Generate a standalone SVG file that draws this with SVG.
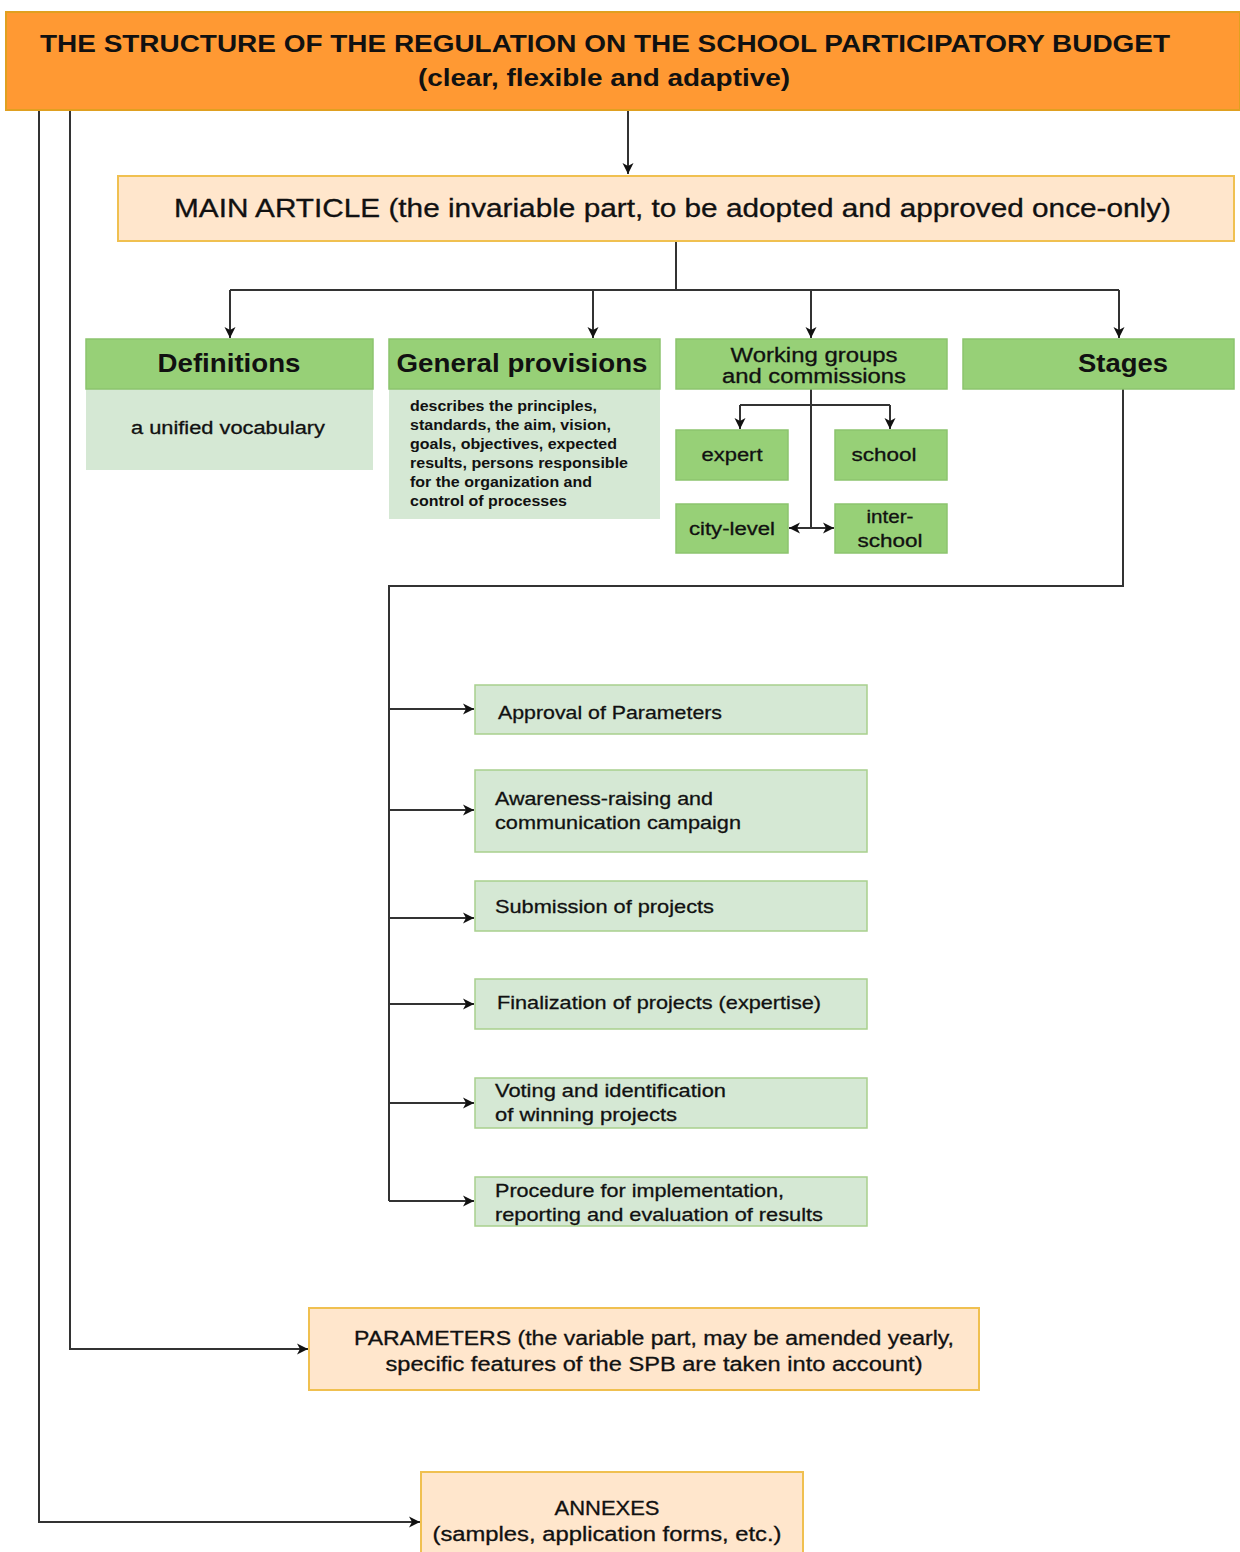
<svg xmlns="http://www.w3.org/2000/svg" width="1240" height="1552" viewBox="0 0 1240 1552">
<defs>
<marker id="ah" markerWidth="14" markerHeight="14" refX="12" refY="7" orient="auto" markerUnits="userSpaceOnUse">
<path d="M1,1.5 L12,7 L1,12.5 L4,7 Z" fill="#111"/>
</marker>
<marker id="ahs" markerWidth="14" markerHeight="14" refX="2" refY="7" orient="auto" markerUnits="userSpaceOnUse">
<path d="M13,1.5 L2,7 L13,12.5 L10,7 Z" fill="#111"/>
</marker>
</defs>
<style>
text{font-family:"Liberation Sans",Arial,sans-serif;fill:#111}
.orange{fill:#FF9933;stroke:#E0A020;stroke-width:2}
.peach{fill:#FFE6CC;stroke:#F0C050;stroke-width:2}
.green{fill:#97D077;stroke:#8CC46E;stroke-width:1.5}
.lgreen{fill:#D5E8D4;stroke:#A8D08D;stroke-width:1.5}
.lgreen2{fill:#D5E8D4;stroke:none}
.c{fill:none;stroke:#333;stroke-width:2}
.b{font-weight:bold}
.m{text-anchor:middle}
.s{stroke:#111;stroke-width:0.3}
</style>
<rect width="1240" height="1552" fill="#fff"/>

<g id="connectors">
<path class="c" d="M628,110 V174" marker-end="url(#ah)"/>
<path class="c" d="M676,241 V290"/>
<path class="c" d="M230,290 H1119"/>
<path class="c" d="M230,290 V338" marker-end="url(#ah)"/>
<path class="c" d="M593,290 V338" marker-end="url(#ah)"/>
<path class="c" d="M811,290 V338" marker-end="url(#ah)"/>
<path class="c" d="M1119,290 V338" marker-end="url(#ah)"/>
<path class="c" d="M811,389 V528"/>
<path class="c" d="M740,405 H890"/>
<path class="c" d="M740,405 V429" marker-end="url(#ah)"/>
<path class="c" d="M890,405 V429" marker-end="url(#ah)"/>
<path class="c" d="M789,528 H834" marker-start="url(#ahs)" marker-end="url(#ah)"/>
<path class="c" d="M1123,389 V586 H389 V1201"/>
<path class="c" d="M389,709 H474" marker-end="url(#ah)"/>
<path class="c" d="M389,810 H474" marker-end="url(#ah)"/>
<path class="c" d="M389,918 H474" marker-end="url(#ah)"/>
<path class="c" d="M389,1004 H474" marker-end="url(#ah)"/>
<path class="c" d="M389,1103 H474" marker-end="url(#ah)"/>
<path class="c" d="M389,1201 H474" marker-end="url(#ah)"/>
<path class="c" d="M70,110 V1349 H308" marker-end="url(#ah)"/>
<path class="c" d="M39,110 V1522 H420" marker-end="url(#ah)"/>
</g>

<g id="header">
<rect class="orange" x="6" y="12" width="1234" height="98"/>
<text class="b m" x="605" y="52" font-size="24" textLength="1130" lengthAdjust="spacingAndGlyphs">THE STRUCTURE OF THE REGULATION ON THE SCHOOL PARTICIPATORY BUDGET</text>
<text class="b m" x="604" y="86" font-size="24" textLength="372" lengthAdjust="spacingAndGlyphs">(clear, flexible and adaptive)</text>
</g>

<g id="main-article">
<rect class="peach" x="118" y="176" width="1116" height="65"/>
<text class="s" x="174" y="217" font-size="25" textLength="997" lengthAdjust="spacingAndGlyphs">MAIN ARTICLE (the invariable part, to be adopted and approved once-only)</text>
</g>

<g id="definitions">
<rect class="lgreen2" x="86" y="389" width="287" height="81"/>
<rect class="green" x="86" y="339" width="287" height="50"/>
<text class="b m" x="229" y="372" font-size="26" textLength="143" lengthAdjust="spacingAndGlyphs">Definitions</text>
<text class="m s" x="228" y="434" font-size="18" textLength="194" lengthAdjust="spacingAndGlyphs">a unified vocabulary</text>
</g>

<g id="general-provisions">
<rect class="lgreen2" x="389" y="389" width="271" height="130"/>
<rect class="green" x="389" y="339" width="271" height="50"/>
<text class="b m" x="522" y="372" font-size="26" textLength="251" lengthAdjust="spacingAndGlyphs">General provisions</text>
<g font-size="15" font-weight="bold">
<text x="410" y="411" textLength="187" lengthAdjust="spacingAndGlyphs">describes the principles,</text>
<text x="410" y="430" textLength="201" lengthAdjust="spacingAndGlyphs">standards, the aim, vision,</text>
<text x="410" y="449" textLength="207" lengthAdjust="spacingAndGlyphs">goals, objectives, expected</text>
<text x="410" y="468" textLength="218" lengthAdjust="spacingAndGlyphs">results, persons responsible</text>
<text x="410" y="487" textLength="182" lengthAdjust="spacingAndGlyphs">for the organization and</text>
<text x="410" y="506" textLength="157" lengthAdjust="spacingAndGlyphs">control of processes</text>
</g>
</g>

<g id="working-groups">
<rect class="green" x="676" y="339" width="271" height="50"/>
<text class="m s" x="814" y="362" font-size="20" textLength="167" lengthAdjust="spacingAndGlyphs">Working groups</text>
<text class="m s" x="814" y="383" font-size="20" textLength="184" lengthAdjust="spacingAndGlyphs">and commissions</text>
</g>

<g id="expert">
<rect class="green" x="676" y="430" width="112" height="50"/>
<text class="m s" x="732" y="461" font-size="18" textLength="61" lengthAdjust="spacingAndGlyphs">expert</text>
</g>
<g id="school">
<rect class="green" x="835" y="430" width="112" height="50"/>
<text class="m s" x="884" y="461" font-size="18" textLength="65" lengthAdjust="spacingAndGlyphs">school</text>
</g>
<g id="city-level">
<rect class="green" x="676" y="504" width="112" height="49"/>
<text class="m s" x="732" y="535" font-size="18" textLength="86" lengthAdjust="spacingAndGlyphs">city-level</text>
</g>
<g id="inter-school">
<rect class="green" x="835" y="504" width="112" height="49"/>
<text class="m s" x="890" y="523" font-size="18" textLength="47" lengthAdjust="spacingAndGlyphs">inter-</text>
<text class="m s" x="890" y="547" font-size="18" textLength="65" lengthAdjust="spacingAndGlyphs">school</text>
</g>

<g id="stages">
<rect class="green" x="963" y="339" width="271" height="50"/>
<text class="b m" x="1123" y="372" font-size="26" textLength="90" lengthAdjust="spacingAndGlyphs">Stages</text>
</g>

<g font-size="19" class="s">
<g id="stage-approval">
<rect class="lgreen" x="475" y="685" width="392" height="49"/>
<text x="498" y="719" textLength="224" lengthAdjust="spacingAndGlyphs">Approval of Parameters</text>
</g>
<g id="stage-awareness">
<rect class="lgreen" x="475" y="770" width="392" height="82"/>
<text x="495" y="805" textLength="218" lengthAdjust="spacingAndGlyphs">Awareness-raising and</text>
<text x="495" y="829" textLength="246" lengthAdjust="spacingAndGlyphs">communication campaign</text>
</g>
<g id="stage-submission">
<rect class="lgreen" x="475" y="881" width="392" height="50"/>
<text x="495" y="913" textLength="219" lengthAdjust="spacingAndGlyphs">Submission of projects</text>
</g>
<g id="stage-finalization">
<rect class="lgreen" x="475" y="979" width="392" height="50"/>
<text x="497" y="1009" textLength="324" lengthAdjust="spacingAndGlyphs">Finalization of projects (expertise)</text>
</g>
<g id="stage-voting">
<rect class="lgreen" x="475" y="1078" width="392" height="50"/>
<text x="495" y="1097" textLength="231" lengthAdjust="spacingAndGlyphs">Voting and identification</text>
<text x="495" y="1121" textLength="182" lengthAdjust="spacingAndGlyphs">of winning projects</text>
</g>
<g id="stage-procedure">
<rect class="lgreen" x="475" y="1177" width="392" height="49"/>
<text x="495" y="1197" textLength="289" lengthAdjust="spacingAndGlyphs">Procedure for implementation,</text>
<text x="495" y="1221" textLength="328" lengthAdjust="spacingAndGlyphs">reporting and evaluation of results</text>
</g>
</g>

<g id="parameters">
<rect class="peach" x="309" y="1308" width="670" height="82"/>
<text class="m s" x="654" y="1345" font-size="20" textLength="600" lengthAdjust="spacingAndGlyphs">PARAMETERS (the variable part, may be amended yearly,</text>
<text class="m s" x="654" y="1371" font-size="20" textLength="537" lengthAdjust="spacingAndGlyphs">specific features of the SPB are taken into account)</text>
</g>

<g id="annexes">
<rect class="peach" x="421" y="1472" width="382" height="90"/>
<text class="m s" x="607" y="1515" font-size="20" textLength="105" lengthAdjust="spacingAndGlyphs">ANNEXES</text>
<text class="m s" x="607" y="1541" font-size="20" textLength="349" lengthAdjust="spacingAndGlyphs">(samples, application forms, etc.)</text>
</g>
</svg>
